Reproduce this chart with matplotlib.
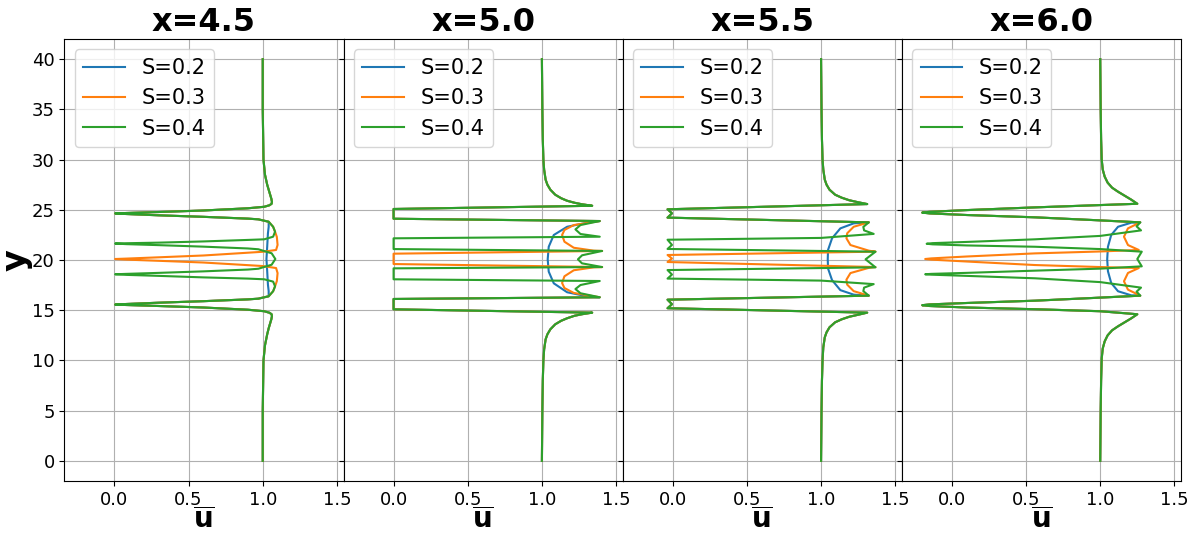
import numpy as np
import matplotlib.pyplot as plt

stations = ['x=4.5', 'x=5.0', 'x=5.5', 'x=6.0']
s_labels = ['S=0.2', 'S=0.3', 'S=0.4']
colors = ['tab:blue', 'tab:orange', 'tab:green']

# x = 4.5 : upper tail + top dip, lower dip + tail (common to all S)
top_45_y = [40, 35, 30, 28.5, 27.5, 27, 26.5, 26.1, 25.8, 25.6, 25.45, 25.3, 25.15, 24.93, 24.78,
            24.68, 24.64, 24.58, 24.45, 24.3, 24.12, 24.05, 23.81]
top_45_u = [1.0, 1.0, 1.005, 1.015, 1.03, 1.04, 1.05, 1.058, 1.062, 1.06, 1.045, 1.01, 0.9, 0.6,
            0.3, 0.08, 0.005, 0.08, 0.3, 0.6, 0.9, 0.97, 1.04]
bot_45_y = [16.39, 16.15, 16.08, 15.9, 15.75, 15.62, 15.56, 15.52, 15.42, 15.27, 15.05, 14.9,
            14.75, 14.6, 14.4, 14.1, 13.7, 13.2, 12.6, 11.5, 10, 5, 0]
bot_45_u = [1.04, 0.97, 0.9, 0.6, 0.3, 0.08, 0.005, 0.08, 0.3, 0.6, 0.9, 1.01,
            1.045, 1.06, 1.062, 1.058, 1.05, 1.04, 1.03, 1.015, 1.005, 1.0, 1.0]
mid_45_s2_y = [23.81, 23.3, 22.66, 21.32, 20.1, 18.9, 17.55, 16.9, 16.39]
mid_45_s2_u = [1.04, 1.04, 1.035, 1.03, 1.025, 1.03, 1.035, 1.04, 1.04]
mid_45_s3_y = [23.81, 23.31, 22.82, 22.3, 21.5, 21.0, 20.82, 20.45, 20.27, 20.14, 20.1, 20.04,
               19.92, 19.75, 19.4, 19.2, 18.7, 17.9, 17.38, 16.89, 16.39]
mid_45_s3_u = [1.04, 1.07, 1.083, 1.095, 1.1, 1.09, 1.0, 0.6, 0.3, 0.08, 0.005, 0.08,
               0.3, 0.6, 1.0, 1.09, 1.1, 1.095, 1.083, 1.07, 1.04]
mid_45_s4_y = [23.81, 23.31, 22.82, 22.32, 22.06, 22.0, 21.85, 21.73, 21.67, 21.64, 21.58, 21.48,
               21.33, 21.15, 21.07, 20.67, 20.1, 19.53, 19.13, 19.05, 18.87, 18.72, 18.62,
               18.58, 18.52, 18.42, 18.27, 18.15, 18.08, 17.85, 17.38, 16.89, 16.39]
mid_45_s4_u = [1.04, 1.07, 1.083, 1.07, 1.01, 0.9, 0.6, 0.3, 0.08, 0.005, 0.08, 0.3,
               0.6, 0.9, 0.97, 1.06, 1.085, 1.06, 0.97, 0.9, 0.6, 0.3, 0.08,
               0.005, 0.08, 0.3, 0.6, 0.9, 1.01, 1.07, 1.083, 1.07, 1.04]

# x = 5.0
top_50_y = [40, 35, 32, 30, 29, 28, 27.5, 27, 26.5, 26.15, 25.9, 25.7, 25.55, 25.4, 25.08,
            24.11, 23.88]
top_50_u = [1.0, 1.003, 1.006, 1.01, 1.015, 1.025, 1.037, 1.057, 1.09, 1.13, 1.17, 1.22, 1.27,
            1.339, 0.0, 0.0, 1.39]
bot_50_y = [16.29, 16.12, 15.09, 14.76, 14.6, 14.45, 14.2, 13.95, 13.6, 13.1, 12.6, 12.1, 11.1,
            10, 8, 5, 0]
bot_50_u = [1.39, 0.0, 0.0, 1.339, 1.27, 1.22, 1.17, 1.13, 1.09, 1.057, 1.037, 1.025, 1.015,
            1.01, 1.006, 1.003, 1.0]
mid_50_s2_y = [23.88, 23.75, 23.31, 22.49, 21.32, 20.07, 18.84, 17.68, 16.79, 16.35, 16.29]
mid_50_s2_u = [1.39, 1.316, 1.17, 1.08, 1.046, 1.039, 1.046, 1.08, 1.17, 1.316, 1.39]
mid_50_s3_y = [23.88, 23.48, 22.99, 22.49, 21.82, 21.22, 20.93, 20.9, 20.63, 19.6, 19.3,
               19.27, 18.98, 18.38, 17.71, 17.21, 16.72, 16.29]
mid_50_s3_u = [1.39, 1.215, 1.152, 1.136, 1.152, 1.215, 1.35, 1.406, 0.0, 0.0, 1.406,
               1.35, 1.215, 1.152, 1.136, 1.152, 1.215, 1.39]
mid_50_s4_y = [23.88, 23.48, 23.05, 22.59, 22.32, 22.16, 21.09, 20.9, 20.47, 20.07, 19.67,
               19.3, 19.17, 18.08, 17.91, 17.51, 17.11, 16.69, 16.29]
mid_50_s4_u = [1.39, 1.26, 1.226, 1.26, 1.39, 0.0, 0.0, 1.406, 1.271, 1.243, 1.27,
               1.406, 0.0, 0.0, 1.39, 1.26, 1.226, 1.26, 1.39]

# x = 5.5
top_55_y = [40, 35, 32, 30, 29, 28, 27.5, 27, 26.5, 26.2, 25.95, 25.75, 25.57, 25.05, 24.65,
            24.22, 23.75]
top_55_u = [1.0, 1.003, 1.006, 1.01, 1.015, 1.025, 1.037, 1.057, 1.095, 1.14, 1.19, 1.25, 1.311,
            -0.035, -0.005, -0.035, 1.322]
bot_55_y = [16.45, 16.05, 15.6, 15.2, 14.76, 14.55, 14.35, 14.1, 13.8, 13.3, 12.8, 12.3, 11.3,
            10, 8, 5, 0]
bot_55_u = [1.322, -0.035, -0.005, -0.035, 1.311, 1.25, 1.19, 1.14, 1.095, 1.057, 1.037, 1.025,
            1.015, 1.01, 1.006, 1.003, 1.0]
mid_55_s2_y = [23.75, 23.65, 23.15, 22.16, 21.0, 20.07, 19.15, 18.0, 17.0, 16.55, 16.45]
mid_55_s2_u = [1.322, 1.22, 1.13, 1.074, 1.047, 1.045, 1.047, 1.074, 1.13, 1.22, 1.322]
mid_55_s3_y = [23.75, 23.31, 22.66, 22.16, 21.49, 20.93, 20.83, 20.5, 20.15, 19.8, 19.3,
               19.22, 18.7, 18.04, 17.55, 16.9, 16.45]
mid_55_s3_u = [1.322, 1.22, 1.176, 1.171, 1.198, 1.322, 1.367, -0.035, -0.005, -0.035, 1.367,
               1.322, 1.198, 1.171, 1.176, 1.22, 1.322]
mid_55_s4_y = [23.75, 23.3, 22.95, 22.6, 22.2, 22.02, 21.5, 21.1, 20.83, 20.07, 19.27,
               19.0, 18.55, 18.15, 17.95, 17.6, 17.25, 16.9, 16.45]
mid_55_s4_u = [1.322, 1.285, 1.29, 1.355, 1.0, -0.035, -0.005, -0.035, 1.367, 1.30, 1.367,
               -0.035, -0.005, -0.035, 1.0, 1.355, 1.29, 1.285, 1.322]

# x = 6.0
top_60_y = [40, 35, 32, 30, 29, 28.3, 27.7, 27.2, 26.8, 26.4, 26.0, 25.6, 25.24, 24.97, 24.8,
            24.72, 24.64, 24.48, 24.25, 23.98, 23.75]
top_60_u = [1.0, 1.003, 1.006, 1.01, 1.017, 1.03, 1.05, 1.08, 1.12, 1.165, 1.21, 1.25, 0.56,
            0.1, -0.15, -0.2, -0.15, 0.1, 0.56, 0.95, 1.27]
bot_60_y = [16.45, 16.22, 15.95, 15.72, 15.58, 15.5, 15.42, 15.27, 15.1, 14.9, 14.6, 14.2,
            13.8, 13.4, 13.0, 12.5, 11.9, 11.2, 10.2, 8, 5, 0]
bot_60_u = [1.27, 0.95, 0.56, 0.1, -0.15, -0.2, -0.15, 0.1, 0.56, 1.0, 1.25, 1.21,
            1.165, 1.12, 1.08, 1.05, 1.03, 1.017, 1.01, 1.006, 1.003, 1.0]
mid_60_s2_y = [23.75, 23.72, 23.31, 22.49, 21.32, 20.07, 18.88, 17.71, 16.89, 16.48, 16.45]
mid_60_s2_u = [1.27, 1.21, 1.12, 1.074, 1.052, 1.047, 1.052, 1.074, 1.12, 1.21, 1.27]
mid_60_s3_y = [23.75, 23.15, 22.32, 21.49, 21.0, 20.85, 20.66, 20.35, 20.16, 20.1, 20.04,
               19.85, 19.5, 19.3, 19.2, 18.71, 17.88, 17.05, 16.45]
mid_60_s3_u = [1.27, 1.187, 1.16, 1.187, 1.26, 1.0, 0.56, 0.1, -0.14, -0.18, -0.14,
               0.1, 0.56, 1.0, 1.26, 1.187, 1.16, 1.187, 1.27]
mid_60_s4_y = [23.75, 23.35, 22.95, 22.4, 22.06, 21.8, 21.68, 21.62, 21.56, 21.45, 21.32,
               21.09, 20.83, 20.1, 19.37, 19.14, 18.94, 18.72, 18.62, 18.58, 18.54, 18.42,
               18.18, 17.8, 17.25, 16.85, 16.45]
mid_60_s4_u = [1.27, 1.245, 1.275, 1.0, 0.56, 0.1, -0.13, -0.17, -0.13, 0.1, 0.56,
               1.0, 1.28, 1.25, 1.28, 1.0, 0.56, 0.1, -0.14, -0.18, -0.14, 0.1,
               0.56, 1.0, 1.275, 1.245, 1.27]

panels = [
    (top_45_u, top_45_y, bot_45_u, bot_45_y,
     [(mid_45_s2_u, mid_45_s2_y), (mid_45_s3_u, mid_45_s3_y), (mid_45_s4_u, mid_45_s4_y)]),
    (top_50_u, top_50_y, bot_50_u, bot_50_y,
     [(mid_50_s2_u, mid_50_s2_y), (mid_50_s3_u, mid_50_s3_y), (mid_50_s4_u, mid_50_s4_y)]),
    (top_55_u, top_55_y, bot_55_u, bot_55_y,
     [(mid_55_s2_u, mid_55_s2_y), (mid_55_s3_u, mid_55_s3_y), (mid_55_s4_u, mid_55_s4_y)]),
    (top_60_u, top_60_y, bot_60_u, bot_60_y,
     [(mid_60_s2_u, mid_60_s2_y), (mid_60_s3_u, mid_60_s3_y), (mid_60_s4_u, mid_60_s4_y)]),
]

fig, axes = plt.subplots(1, 4, sharey=True, figsize=(11.93, 5.35), dpi=100)
fig.subplots_adjust(left=0.054, right=0.99, top=0.927, bottom=0.101, wspace=0)

for ax, title, (tu, ty, bu, by, mids) in zip(axes, stations, panels):
    for (mu, my), lab, c in zip(mids, s_labels, colors):
        u = np.concatenate([tu, mu, bu])
        y = np.concatenate([ty, my, by])
        ax.plot(u, y, color=c, lw=1.5, label=lab)
    ax.set_title(title, fontsize=23, fontweight='bold')
    ax.set_xlabel(r'$\mathbf{\overline{u}}$', fontsize=20)
    ax.xaxis.set_label_coords(0.5, -0.058)
    ax.set_xlim(-0.337, 1.545)
    ax.set_xticks([0.0, 0.5, 1.0, 1.5])
    ax.tick_params(labelsize=13)
    ax.grid(True)
    ax.legend(loc='upper left', fontsize=15)

axes[0].set_ylabel('y', fontsize=24, fontweight='bold')
axes[0].yaxis.set_label_coords(-0.115, 0.5)
axes[0].set_ylim(-2, 42)

fig.savefig('out.png', dpi=100)
